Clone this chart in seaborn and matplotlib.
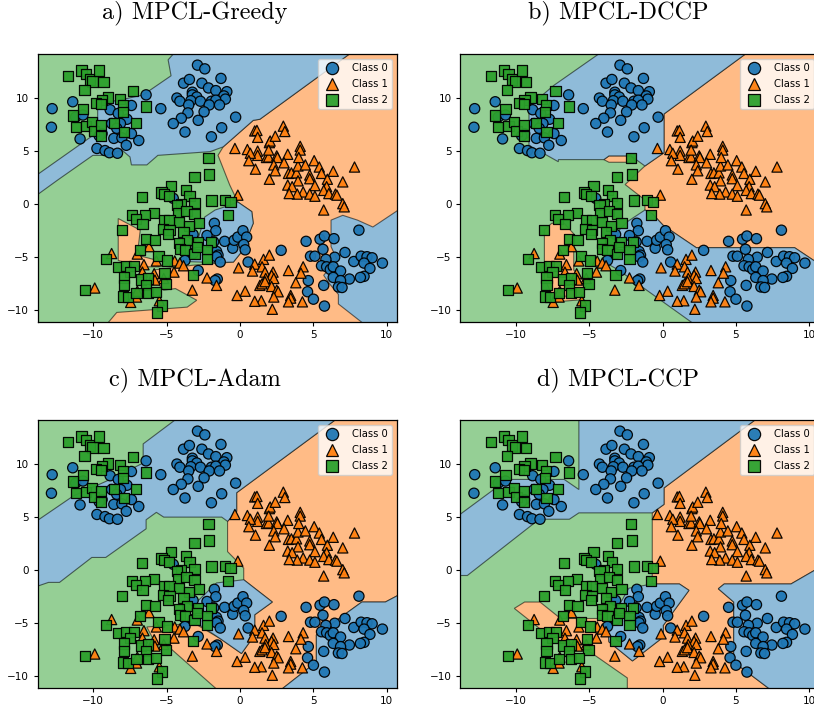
import matplotlib
matplotlib.use('Agg')
import matplotlib.pyplot as plt
import pandas as pd
import seaborn as sns

# scatter points, same in all four panels
class_0 = [(-12.8,9.0),(-12.85,7.25),(-11.4,9.65),(-10.9,6.15),(-11.2,8.2),(-10.7,8.4),(-9.75,5.25),(-9.2,5.05),
           (-8.9,4.85),(-8.35,4.8),(-8.6,6.2),(-8.05,6.25),(-7.75,5.55),(-6.9,6.0),(-7.4,6.65),(-7.4,9.3),(-8.85,8.9),
           (-8.3,8.55),(-7.7,8.0),(-8.75,7.6),(-8.15,7.6),(-8.4,7.15),(-9.4,6.65),(-9.6,6.45),(-6.4,10.3),(-5.4,9.0),
           (-2.9,13.1),(-2.4,12.75),(-3.85,11.4),(-3.45,11.75),(-2.6,11.4),(-2.15,10.95),(-1.3,11.85),(-1.65,10.7),
           (-0.9,10.6),(-1.1,10.2),(-1.0,9.9),(-3.25,10.55),(-3.25,10.3),(-2.95,10.1),(-4.3,10.0),(-4.1,9.7),
           (-3.35,9.75),(-2.7,9.7),(-1.95,9.7),(-1.65,9.8),(-2.1,9.35),(-1.4,9.35),(-3.5,9.35),(-3.55,8.6),(-2.45,8.7),
           (-4.0,8.1),(-2.85,7.9),(-4.55,7.6),(-3.75,6.8),(-1.95,6.35),(-1.25,7.2),(-0.3,8.2),
           (-1.75,-1.8),(-1.65,-2.5),(-2.25,-2.95),(-1.05,-3.5),(-0.5,-4.15),(-0.4,-3.4),(-0.15,-3.1),(0.2,-2.5),
           (0.45,-3.1),(0.25,-3.8),(0.35,-4.3),(0.55,-5.45),(-1.6,-4.45),(-1.5,-4.8),(-1.6,-4.95),(-1.35,-5.45),
           (-3.2,-2.85),(-2.85,-6.25),(-1.55,-7.05),(-1.7,-7.2),(-3.75,-5.3),(2.8,-4.35),(-4.55,0.55),(-1.8,-3.55),(-3.2,-4.65),
           (4.5,-3.5),(5.45,-3.3),(5.75,-3.0),(6.4,-3.25),(8.1,-2.45),(5.65,-4.25),(7.15,-4.55),(4.8,-4.9),(5.1,-4.9),
           (6.45,-5.0),(5.85,-5.2),(7.75,-5.4),(8.25,-4.9),(8.65,-4.95),(9.0,-5.05),(8.45,-5.55),(9.7,-5.55),(8.85,-6.05),
           (5.55,-5.8),(5.9,-5.9),(6.15,-6.15),(6.35,-5.9),(6.85,-6.3),(8.45,-6.8),(8.2,-6.9),(7.45,-7.05),(6.35,-6.9),
           (6.85,-7.2),(4.65,-7.2),(5.7,-7.65),(6.7,-7.8),(6.95,-7.85),(4.6,-8.25),(5.0,-8.95),(5.75,-9.6)]

class_1 = [(-0.35,5.25),(0.5,5.15),(1.0,6.9),(1.15,6.95),(1.2,6.3),(1.2,5.0),(1.2,4.6),(0.7,4.8),(0.6,4.1),(1.05,3.3),
           (1.8,4.4),(1.95,4.45),(2.0,5.8),(2.05,5.95),(1.95,5.1),(2.4,6.4),(2.95,7.35),(3.05,6.85),(2.5,4.55),(2.55,4.4),
           (3.25,4.7),(2.3,3.7),(2.4,3.15),(2.0,2.35),(3.0,3.9),(3.3,2.9),(3.5,2.95),(3.85,2.95),(3.95,3.6),(4.45,3.7),
           (4.1,5.45),(4.1,5.1),(4.0,4.4),(5.05,4.1),(5.4,3.5),(5.55,2.9),(4.75,2.75),(4.75,2.4),(3.95,2.2),(3.25,1.8),
           (3.55,1.65),(5.1,1.75),(5.95,2.35),(6.35,3.1),(7.8,3.5),(7.0,2.1),(5.9,1.65),(5.7,1.3),(4.3,1.15),(4.75,0.95),
           (5.1,0.75),(3.9,0.95),(3.35,1.0),(6.05,1.0),(6.5,0.95),(6.6,0.85),(7.0,0.05),(7.1,-0.25),(5.7,-0.55),(-0.15,0.85),
           (1.0,-5.65),(0.85,-6.3),(-0.1,-6.0),(1.6,-5.2),(2.0,-4.8),(1.5,-5.9),(1.7,-6.4),(2.25,-6.4),(2.15,-6.7),(3.3,-6.25),
           (4.3,-5.9),(4.15,-6.5),(3.8,-7.4),(1.75,-7.0),(2.3,-7.0),(1.35,-7.65),(1.5,-7.5),(1.7,-7.3),(2.15,-7.75),(2.5,-8.1),
           (2.6,-8.25),(2.3,-8.75),(3.45,-8.6),(3.45,-8.85),(3.3,-9.2),(4.25,-9.2),(2.2,-9.9),(1.45,-9.1),(1.0,-9.15),(0.35,-8.2),
           (-0.2,-8.6),(-1.6,-7.65),(-2.25,-6.95),(-3.25,-8.1),(-9.9,-7.9),(-8.75,-4.65),
           (-6.2,-4.0),(-7.0,-4.7),(-5.7,-5.35),(-6.55,-5.7),(-4.45,-5.35),(-4.1,-5.55),(-3.85,-5.8),(-4.5,-6.4),(-5.85,-6.55),
           (-6.65,-6.4),(-5.2,-7.0),(-5.8,-7.15),(-7.05,-8.75),(-7.45,-9.25),(-5.5,-9.1),(-7.0,-8.2)]

class_2 = [(-11.7,12.05),(-10.8,12.6),(-10.5,12.25),(-10.25,11.75),(-10.05,11.55),(-9.6,12.6),(-9.3,11.5),(-10.6,10.75),
           (-7.3,10.7),(-9.0,10.05),(-9.4,9.8),(-9.8,9.5),(-9.45,9.45),(-8.2,9.9),(-7.95,9.35),(-6.4,9.2),(-10.7,8.95),
           (-11.4,8.35),(-11.2,7.25),(-10.5,7.4),(-10.1,7.75),(-9.95,6.9),(-9.45,7.45),(-9.45,6.4),(-8.6,7.65),(-7.9,6.8),
           (-7.1,7.65),(-8.0,8.7),
           (-2.15,4.35),(-2.1,2.8),(-3.1,2.55),(-4.7,1.75),(-5.35,1.1),(-5.2,0.95),(-4.85,0.8),(-6.7,0.65),(-3.7,1.3),(-3.45,0.75),
           (-3.1,0.1),(-4.0,0.05),(-4.3,-0.1),(-1.95,0.35),(-1.05,0.4),(-0.65,0.2),(-0.8,-1.05),(-4.25,-0.8),(-3.65,-0.65),
           (-3.1,-0.9),(-5.85,-0.85),(-6.45,-1.05),(-7.35,-1.05),(-7.1,-1.4),(-6.65,-1.9),(-8.05,-2.4),(-5.2,-1.5),(-4.8,-1.5),
           (-4.15,-1.65),(-2.8,-1.8),(-3.5,-2.05),(-5.25,-2.35),(-4.8,-2.4),(-4.9,-2.8),(-3.85,-2.6),(-6.4,-3.25),(-5.8,-3.35),
           (-3.6,-3.4),(-4.15,-3.65),(-4.1,-4.2),(-3.75,-4.3),(-2.85,-3.6),(-2.0,-3.6),(-3.1,-4.7),(-2.25,-4.35),(-2.25,-5.2),
           (-2.95,-4.0),(-6.8,-4.35),(-5.55,-4.9),(-4.95,-5.3),(-9.15,-5.2),(-8.3,-5.9),(-7.75,-5.8),(-7.25,-5.85),(-7.5,-6.4),
           (-7.9,-6.9),(-7.9,-7.65),(-6.75,-7.1),(-6.25,-7.0),(-5.15,-6.5),(-5.05,-7.5),(-6.4,-7.6),(-10.55,-8.1),(-8.0,-8.7),
           (-7.65,-8.75),(-7.05,-8.35),(-6.25,-8.35),(-5.7,-8.3),(-5.3,-9.55),(-5.65,-10.2),(-3.2,-6.7)]

class_labels = ['Class 0', 'Class 1', 'Class 2']

# decision regions, (x, y) corners in data units
a_orange = [(1.35,8.0),(0.9,7.9),(-1.15,5.4),(-1.5,4.6),(-0.7,1.8),(-0.15,0.2),(0.8,-0.7),(0.9,-1.8),(0.1,-4.5),(-0.45,-5.45),
            (-3.2,-5.75),(-5.9,-6.2),(-5.9,-7.0),(-5.2,-8.1),(-4.4,-7.95),(-2.95,-9.05),(-3.6,-9.7),(-8.4,-10.2),(-9.5,-12),
            (11,-12),(11,15),(8.3,15)]
a_orange_left = [(-8.3,-1.35),(-6.8,-2.45),(-7.0,-4.8),(-5.9,-5.2),(-5.5,-5.9),(-6.8,-5.9),(-8.3,-5.3)]
a_blue_top = [(-14,0.7),(-12.4,2.3),(-10.03,4.6),(-9.1,4.6),(-8.05,5.1),(-7.5,4.45),(-7.4,3.7),(-6.35,3.7),(-5.6,4.6),
              (-2.05,4.95),(-1.15,5.4),(0.9,7.9),(1.35,8.0),(8.3,15),(-4.0,15),(-4.9,13.6),(-4.7,12.1),(-6.6,10.3),
              (-8.2,9.8),(-9.7,9.5),(-9.7,6.6),(-10.0,6.5),(-14,2.6)]
a_blue_mid = [(-0.15,0.2),(0.8,-0.7),(0.9,-1.8),(0.1,-4.5),(-0.45,-5.45),(-1.7,-5.5),(-3.7,-5.4),(-3.4,-4.2),(-2.8,-3.0),
              (-2.4,-1.2),(-1.7,-0.55),(-0.7,-0.1)]
a_blue_right = [(6.2,-1.5),(7.0,-1.05),(8.0,-1.5),(9.05,-2.15),(11,-0.35),(11,-12),(9.1,-12),(6.7,-9.4),(6.7,-8.5),(6.1,-7.5),
                (5.7,-6.7),(6.6,-5.2),(6.2,-4.0)]

b_orange = [(0.1,8.5),(5.65,14.15),(7,15),(11,15),(11,-5.8),(10.3,-5.3),(9.0,-4.1),(2.3,-4.1),(0.05,-2.0),(-0.7,-0.9),
            (-1.2,-0.55),(-1.2,0.4),(-2.55,1.85),(-1.2,3.6),(0.1,4.85)]
b_orange_sliver = [(-4.0,4.2),(-3.65,4.55),(-2.15,4.55),(-1.8,3.95),(-3.65,3.95)]
b_orange_left = [(-8.05,-2.4),(-7.55,-1.8),(-6.7,-1.8),(-6.05,-2.8),(-6.05,-6.2),(-5.2,-7.5),(-5.5,-9.0),(-7.3,-9.2),(-8.05,-7.0)]
b_blue_top = [(-3.45,15),(-4.35,14.15),(-7.4,11.2),(-9.1,9.2),(-9.1,5.55),(-7.1,4.0),(-7.1,4.2),(-4.0,4.2),(-3.65,4.55),(-2.15,4.55),
              (-1.8,4.2),(-1.2,3.6),(0.1,4.85),(0.1,8.5),(5.65,14.15),(7,15)]
b_blue_low = [(-1.2,-0.55),(-0.7,-0.9),(0.05,-2.0),(2.3,-4.1),(9.0,-4.1),(10.3,-5.3),(11,-5.8),(11,-12),(3,-12),(2.05,-11.2),
              (-3.0,-6.2),(-3.9,-5.5),(-3.4,-5.0),(-3.0,-2.5),(-2.4,-1.65)]

c_orange = [(6.48,14.15),(8,15),(11,15),(11,-2.2),(9.9,-3.0),(8.3,-3.0),(5.2,-6.1),(5.2,-8.65),(2.85,-11.2),(2,-12),(-2.5,-12),
            (-1.6,-11.2),(-5.0,-7.05),(-5.8,-6.8),(-6.35,-5.35),(-4.0,-5.1),(-3.3,-4.85),(-1.35,-6.45),(0.1,-7.85),(1.0,-6.1),(1.0,-4.2),
            (2.2,-3.0),(0.25,-0.9),(0.25,0.2),(-0.85,1.75),(-0.85,4.6),(-0.23,5.55),(-0.23,7.3)]
c_blue_top = [(-14,4.5),(-11.35,7.0),(-8.6,8.7),(-6.6,10.1),(-6.6,11.9),(-4.43,14.15),(-3.5,15),(8,15),(6.48,14.15),(-0.23,7.3),
              (-0.23,5.55),(-0.85,4.6),(-1.25,5.0),(-5.2,5.0),(-5.7,5.45),(-6.4,4.75),(-6.4,3.9),(-9.15,1.2),(-10.1,1.2),(-12.3,-1.15),
              (-13.05,-1.15),(-14,-1.6)]
c_blue_mid = [(0.25,-0.9),(2.2,-3.0),(1.0,-4.2),(1.0,-6.1),(0.1,-7.85),(-1.35,-6.45),(-2.6,-5.3),(-3.3,-4.85),(-2.95,-3.0),(-1.6,-1.2)]
c_blue_right = [(11,-2.2),(9.9,-3.0),(8.3,-3.0),(5.2,-6.1),(5.2,-8.65),(2.85,-11.2),(2,-12),(11,-12)]

d_orange = [(0.1,7.75),(6.3,14.15),(7,15),(11,15),(11,0.5),(8.75,-1.3),(4.2,-1.3),(3.8,-1.75),(4.85,-3.0),(4.85,-8.65),(7.3,-11.2),
            (8,-12),(-2.4,-12),(-2.4,-10.15),(-5.1,-7.55),(-7.5,-6.45),(-10.1,-3.6),(-9.4,-3.0),(-8.35,-3.0),(-6.95,-4.55),(-3.75,-4.55),
            (-3.75,-5.2),(-3.65,-6.75),(-2.05,-8.55),(0.05,-6.3),(0.05,-5.2),(1.8,-1.9),(1.15,-1.3),(-0.7,-1.3),(-0.7,5.4),(0.1,6.2)]
d_blue_top = [(-14,5.05),(-11.5,7.6),(-10.55,8.55),(-6.7,8.55),(-5.7,7.6),(-5.7,15),(7,15),(6.3,14.15),(0.1,7.75),(0.1,6.2),(-0.7,5.4),
              (-5.7,5.4),(-6.35,4.8),(-8.4,4.8),(-13.3,-0.5),(-14,-0.5)]
d_blue_mid = [(-0.7,-1.3),(1.15,-1.3),(1.8,-1.9),(0.05,-5.2),(0.05,-6.3),(-2.05,-8.55),(-3.65,-6.75),(-3.75,-5.2),(-3.2,-3.9),(-2.3,-1.7)]
d_blue_right = [(11,0.5),(8.75,-1.3),(4.2,-1.3),(3.8,-1.75),(4.85,-3.0),(4.85,-8.65),(7.3,-11.2),(8,-12),(11,-12)]

# orange first, blue on top of it
region_sets = {
    'a': [('orange', a_orange), ('orange', a_orange_left), ('blue', a_blue_top), ('blue', a_blue_mid), ('blue', a_blue_right)],
    'b': [('orange', b_orange), ('orange', b_orange_sliver), ('orange', b_orange_left), ('blue', b_blue_top), ('blue', b_blue_low)],
    'c': [('orange', c_orange), ('blue', c_blue_top), ('blue', c_blue_mid), ('blue', c_blue_right)],
    'd': [('orange', d_orange), ('blue', d_blue_top), ('blue', d_blue_mid), ('blue', d_blue_right)],
}
region_colors = {'blue': '#8fbbd9', 'orange': '#ffbb86', 'green': '#95cf95'}

titles = {'a': 'a) MPCL-Greedy', 'b': 'b) MPCL-DCCP', 'c': 'c) MPCL-Adam', 'd': 'd) MPCL-CCP'}
title_pos = {'a': (195, 13), 'b': (618, 13), 'c': (195, 380), 'd': (618, 380)}
axes_pos = {'a': (37.5, 54), 'b': (460, 54), 'c': (37.5, 420), 'd': (460, 420)}

W, H = 814, 711
AX_W, AX_H = 359, 268

sns.set_style('ticks', {'axes.edgecolor': 'black', 'text.color': 'black', 'xtick.color': 'black',
                        'ytick.color': 'black', 'font.family': ['DejaVu Sans']})


def make_points():
    rows = []
    for label, pts in zip(class_labels, [class_0, class_1, class_2]):
        for x, y in pts:
            rows.append({'x': x, 'y': y, 'cls': label})
    return pd.DataFrame(rows)


def draw_panel(fig, key, df):
    left, top = axes_pos[key]
    ax = fig.add_axes([left / W, 1 - (top + AX_H) / H, AX_W / W, AX_H / H])
    ax.set_facecolor(region_colors['green'])
    for color, poly in region_sets[key]:
        xs, ys = zip(*poly)
        ax.fill(xs, ys, facecolor=region_colors[color], edgecolor=(0, 0, 0, 0.55), linewidth=0.8, zorder=1)

    sns.scatterplot(data=df, x='x', y='y', hue='cls', style='cls', hue_order=class_labels, style_order=class_labels,
                    palette=['#1f77b4', '#ff7f0e', '#2ca02c'], markers=['o', '^', 's'], s=54,
                    edgecolor='black', linewidth=0.9, alpha=0.95, ax=ax, zorder=2)

    ax.set_xlim(-13.8, 10.66)
    ax.set_ylim(-11.1, 14.15)
    ax.set_xticks([-10, -5, 0, 5, 10])
    ax.set_yticks([-10, -5, 0, 5, 10])
    ax.tick_params(labelsize=7.5, length=3, width=0.8, pad=3)
    ax.set_xlabel('')
    ax.set_ylabel('')
    sns.move_legend(ax, 'upper right', title=None, fontsize=7.2, frameon=True, borderaxespad=0.5,
                    handletextpad=1.0, labelspacing=0.6, markerscale=1.2)
    for spine in ax.spines.values():
        spine.set_linewidth(0.9)

    tx, ty = title_pos[key]
    fig.text(tx / W, 1 - ty / H, titles[key], family='cmr10', fontsize=17.5, ha='center', va='center')


def main():
    df = make_points()
    fig = plt.figure(figsize=(W / 100, H / 100), dpi=100)
    for key in ['a', 'b', 'c', 'd']:
        draw_panel(fig, key, df)
    fig.savefig('out.png', dpi=100)


if __name__ == "__main__":
    main()
